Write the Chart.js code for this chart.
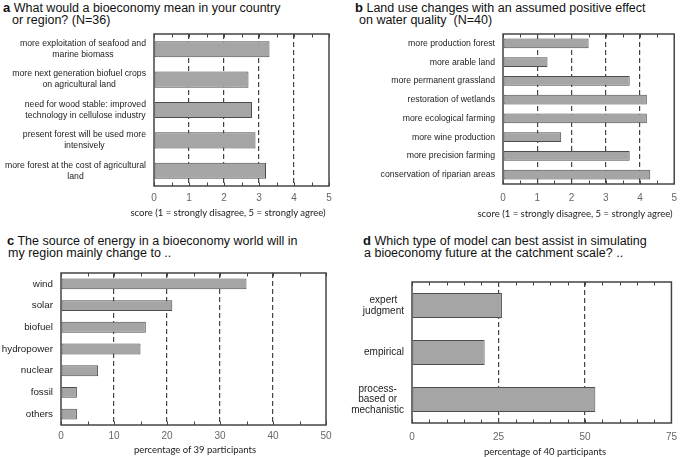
<!DOCTYPE html>
<html>
<head>
<meta charset="utf-8">
<script src="https://cdn.jsdelivr.net/npm/chart.js@4"></script>
<style>
body { margin: 0; background: #fff; width: 685px; height: 457px; position: relative; overflow: hidden; font-family: "Liberation Sans", Arial, sans-serif; }
.t { position: absolute; font-size: 12.5px; line-height: 13px; color: #111; white-space: nowrap; }
.t b { font-size: 13px; }
.ax { position: absolute; font-family: Lato, "Open Sans", sans-serif; font-size: 9.5px; color: #222; white-space: nowrap; transform: translate(-50%, -50%); }
canvas { position: absolute; }
</style>
</head>
<body>
<div class="t" style="left:3px;top:1px"><b>a</b> What would a bioeconomy mean in your country</div>
<div class="t" style="left:12px;top:14px">or region? (N=36)</div>
<div class="t" style="left:355px;top:1px"><b>b</b> Land use changes with an assumed positive effect</div>
<div class="t" style="left:359px;top:14px">on water quality&nbsp; (N=40)</div>
<div class="t" style="left:7px;top:234px"><b>c</b> The source of energy in a bioeconomy world will in</div>
<div class="t" style="left:8px;top:247px">my region mainly change to ..</div>
<div class="t" style="left:363px;top:234px"><b>d</b> Which type of model can best assist in simulating</div>
<div class="t" style="left:364px;top:247px">a bioeconomy future at the catchment scale? ..</div>

<canvas id="chartA" width="345" height="178" style="left:0;top:30px"></canvas>
<canvas id="chartB" width="340" height="178" style="left:345px;top:30px"></canvas>
<canvas id="chartC" width="345" height="178" style="left:0;top:268px"></canvas>
<canvas id="chartD" width="340" height="168" style="left:345px;top:278px"></canvas>

<div class="ax" style="left:228px;top:212px">score (1 = strongly disagree, 5 = strongly agree)</div>
<div class="ax" style="left:575px;top:213px">score (1 = strongly disagree, 5 = strongly agree)</div>
<div class="ax" style="left:195px;top:449px">percentage of 39 participants</div>
<div class="ax" style="left:545px;top:451px">percentage of 40 participants</div>

<script>
// a) bioeconomy meaning (score 0-5)
const aLabels = [
    ["more exploitation of seafood and", "marine biomass"],
    ["more next generation biofuel crops", "on agricultural land"],
    ["need for wood stable: improved", "technology in cellulose industry"],
    ["present forest will be used more", "intensively"],
    ["more forest at the cost of agricultural", "land"]
];
const aValues = [3.3, 2.7, 2.8, 2.9, 3.2];

// b) land use changes (score 0-5)
const bLabels = [
    "more production forest", "more arable land", "more permanent grassland",
    "restoration of wetlands", "more ecological farming", "more wine production",
    "more precision farming", "conservation of riparian areas"
];
const bValues = [2.5, 1.3, 3.7, 4.2, 4.2, 1.7, 3.7, 4.3];

// c) energy source (% of 39)
const cLabels = ["wind", "solar", "biofuel", "hydropower", "nuclear", "fossil", "others"];
const cValues = [35, 21, 16, 15, 7, 3, 3];

// d) model type (% of 40)
const dLabels = [["expert", "judgment"], "empirical", ["process-", "based or", "mechanistic"]];
const dValues = [26, 21, 53];

// axis ticks: max, major step, minor step
const scoreTicks = [5, 1, 0.5];
const energyTicks = [50, 10, 5];
const modelTicks = [75, 25, 5];

function panel(id, labels, values, ticks, p) {
    const [max, step, minor] = ticks;

    // frame box, small tick marks and the centred y labels
    const frame = {
        id: 'frame',
        afterDraw(chart) {
            const ctx = chart.ctx;
            const a = chart.chartArea;
            const x = chart.scales.x, y = chart.scales.y;
            ctx.save();
            ctx.strokeStyle = '#444';
            ctx.lineWidth = 1;
            for (let v = 0; v <= max + 1e-9; v += minor) {
                const px = Math.round(x.getPixelForValue(v)) + 0.5;
                ctx.beginPath();
                ctx.moveTo(px, a.bottom); ctx.lineTo(px, a.bottom - 3.5);
                ctx.moveTo(px, a.top); ctx.lineTo(px, a.top + 3.5);
                ctx.stroke();
            }
            ctx.lineWidth = 1.5;
            ctx.strokeRect(a.left, a.top, a.right - a.left, a.bottom - a.top);

            ctx.font = p.lf + 'px "Liberation Sans", Arial, sans-serif';
            ctx.fillStyle = '#222';
            ctx.textAlign = 'center';
            ctx.textBaseline = 'middle';
            labels.forEach((lab, i) => {
                const lines = Array.isArray(lab) ? lab : [lab];
                const w = Math.max(...lines.map(l => ctx.measureText(l).width));
                const cx = a.left - 8 - w / 2;
                const cy = y.getPixelForValue(i);
                lines.forEach((l, j) => {
                    ctx.fillText(l, cx, cy + (j - (lines.length - 1) / 2) * p.lh);
                });
            });
            ctx.restore();
        }
    };

    return new Chart(document.getElementById(id), {
        type: 'bar',
        data: {
            labels: labels,
            datasets: [{
                data: values,
                backgroundColor: '#a5a5a5',
                borderColor: '#4d4d4d',
                borderWidth: 1,
                borderSkipped: false,
                barPercentage: p.bar,
                categoryPercentage: 1
            }]
        },
        options: {
            indexAxis: 'y',
            responsive: false,
            animation: false,
            layout: { padding: { top: p.top, right: p.right, left: 0, bottom: 0 } },
            plugins: { legend: { display: false }, tooltip: { enabled: false } },
            scales: {
                x: {
                    min: 0, max: max,
                    afterFit: s => { s.height = p.xh; },
                    ticks: {
                        stepSize: step, padding: p.tpad, maxRotation: 0,
                        color: '#666',
                        font: { family: 'Liberation Sans', size: 10 }
                    },
                    grid: {
                        drawTicks: false,
                        lineWidth: 1.2,
                        color: c => (c.tick && c.tick.value > 0 && c.tick.value < max) ? '#444' : 'rgba(0,0,0,0)'
                    },
                    border: { display: false, dash: [5, 3] }
                },
                y: {
                    afterFit: s => { s.width = p.yw; },
                    ticks: { display: false },
                    grid: { display: false },
                    border: { display: false }
                }
            }
        },
        plugins: [frame]
    });
}

panel('chartA', aLabels, aValues, scoreTicks, { yw: 154, top: 4, right: 16, xh: 22, tpad: 6, bar: 0.53, lf: 8.7, lh: 11 });
panel('chartB', bLabels, bValues, scoreTicks, { yw: 158, top: 4, right: 8, xh: 24, tpad: 8, bar: 0.53, lf: 8.7, lh: 11 });
panel('chartC', cLabels, cValues, energyTicks, { yw: 61, top: 5, right: 19, xh: 21, tpad: 5, bar: 0.5, lf: 9.8, lh: 11 });
panel('chartD', dLabels, dValues, modelTicks, { yw: 67, top: 4, right: 7, xh: 23, tpad: 8, bar: 0.53, lf: 10, lh: 10.5 });
</script>
</body>
</html>
